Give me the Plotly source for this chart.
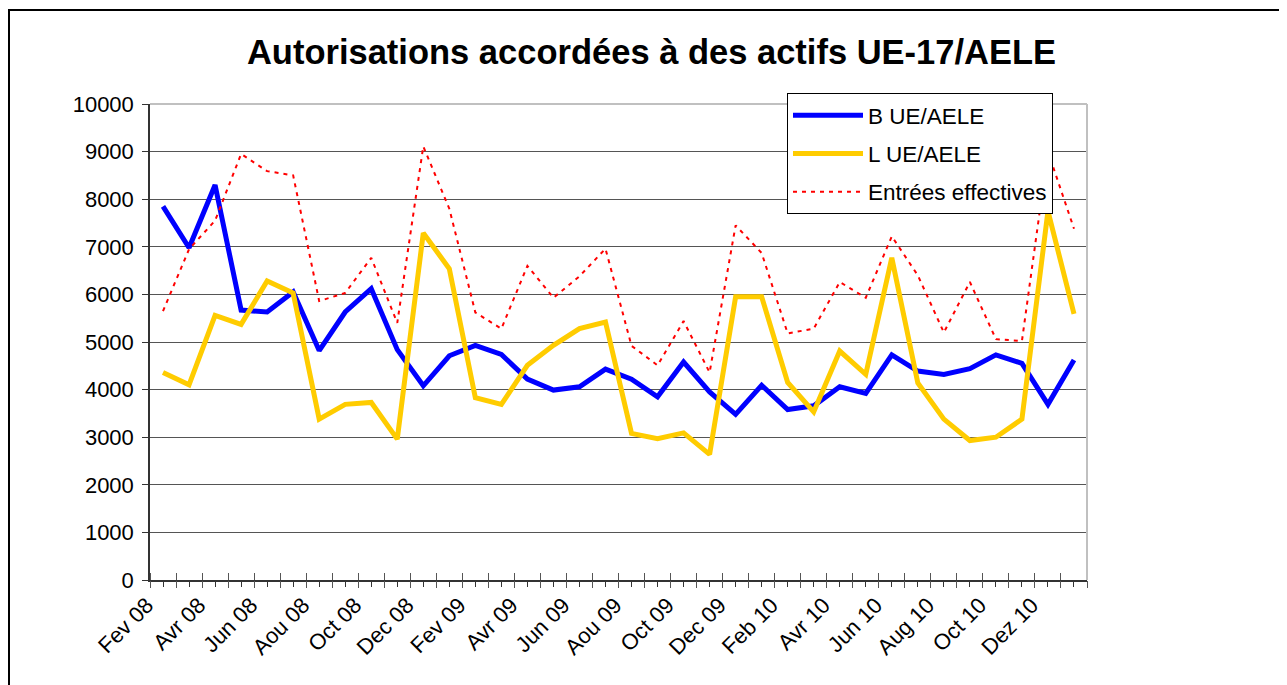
import plotly.graph_objects as go

months = ["Fev 08", "Mar 08", "Avr 08", "Mai 08", "Jun 08", "Jul 08", "Aou 08", "Sep 08",
          "Oct 08", "Nov 08", "Dec 08", "Jan 09", "Fev 09", "Mar 09", "Avr 09", "Mai 09",
          "Jun 09", "Jul 09", "Aou 09", "Sep 09", "Oct 09", "Nov 09", "Dec 09", "Jan 10",
          "Feb 10", "Mar 10", "Avr 10", "Mai 10", "Jun 10", "Jul 10", "Aug 10", "Sep 10",
          "Oct 10", "Nov 10", "Dez 10", "Jan 11"]

b_ue = [7850, 6980, 8300, 5670, 5630, 6050, 4820, 5630, 6120, 4840, 4080, 4710,
        4930, 4740, 4220, 3990, 4060, 4430, 4220, 3850, 4580, 3950, 3480, 4090,
        3580, 3660, 4060, 3920, 4730, 4390, 4320, 4440, 4730, 4550, 3690, 4620]

l_ue = [4360, 4100, 5560, 5370, 6280, 6030, 3380, 3690, 3730, 2960, 7290, 6540,
        3830, 3690, 4510, 4930, 5280, 5420, 3080, 2970, 3090, 2640, 5950, 5950,
        4150, 3530, 4810, 4320, 6770, 4140, 3380, 2930, 3000, 3380, 7750, 5590]

entrees = [5650, 6950, 7550, 8950, 8590, 8500, 5860, 6030, 6770, 5400, 9110, 7800,
           5620, 5280, 6600, 5930, 6380, 6960, 4920, 4510, 5440, 4360, 7450, 6870,
           5180, 5280, 6260, 5930, 7220, 6400, 5200, 6260, 5060, 5020, 9000, 7380]

title = "Autorisations accordées à des actifs UE-17/AELE"
series_names = ["B UE/AELE", "L UE/AELE", "Entrées effectives"]

xs = list(range(len(months)))
ticktext = [m if i % 2 == 0 else "" for i, m in enumerate(months)]

FONT = "Liberation Sans, Arial, sans-serif"

W, H = 1279, 677
ML, MR, MT, MB = 142, 200, 96, 105
PW, PH = W - ML - MR, H - MT - MB

fig = go.Figure()
fig.add_trace(go.Scatter(x=xs, y=b_ue, mode="lines", name=series_names[0], legendgroup="a",
                         line=dict(color="#0000FF", width=5)))
fig.add_trace(go.Scatter(x=xs, y=l_ue, mode="lines", name=series_names[1], legendgroup="b",
                         line=dict(color="#FFCC00", width=5)))
fig.add_trace(go.Scatter(x=xs, y=entrees, mode="lines", name=series_names[2], legendgroup="c",
                         line=dict(color="#FF0000", width=2, dash="4px,5px")))
# helper invisible trace for overlay tick axis
fig.add_trace(go.Scatter(x=[], y=[], xaxis="x2", showlegend=False, hoverinfo="skip"))

xr = [-0.5, len(months) - 0.5]

fig.update_layout(
    width=W, height=H,
    margin=dict(l=ML, r=MR, t=MT, b=MB),
    paper_bgcolor="white", plot_bgcolor="white",
    font=dict(family=FONT, size=22, color="black"),
    title=dict(text="<b>" + title + "</b>", x=643.5 / W, xref="container", xanchor="center",
               y=1 - 44 / H, yref="container", yanchor="middle",
               font=dict(family=FONT, size=34.5, color="black")),
    xaxis=dict(range=xr, tickmode="array", tickvals=xs, ticktext=ticktext, tickangle=-45,
               ticks="outside", ticklen=5, tickcolor="#333", tickwidth=1,
               showline=True, linecolor="#333", linewidth=1.5, showgrid=False, zeroline=False,
               tickfont=dict(family=FONT, size=22), ticklabelshift=-16, ticklabelstandoff=-3,
               minor=dict(tick0=-0.5, dtick=1, ticks="inside", ticklen=7, tickcolor="#555",
                          showgrid=False)),
    xaxis2=dict(range=xr, overlaying="x", anchor="y", side="bottom", tickmode="linear",
                tick0=-0.5, dtick=1, ticks="outside", ticklen=7, tickcolor="#555",
                showticklabels=False, showgrid=False, zeroline=False, showline=False),
    yaxis=dict(range=[0, 10000], dtick=1000, tick0=0, ticks="outside", ticklen=6,
               tickformat="d",
               tickcolor="#333", showline=True, linecolor="#333", linewidth=1.5,
               gridcolor="#555", gridwidth=1, zeroline=False,
               tickfont=dict(family=FONT, size=22), ticklabelstandoff=4),
    legend=dict(x=(787 - 150) / PW, y=1 + 11 / PH, xanchor="left", yanchor="top",
                bgcolor="white", bordercolor="black", borderwidth=1,
                font=dict(family=FONT, size=22.5), tracegroupgap=6, itemwidth=70),
    shapes=[
        dict(type="line", xref="paper", yref="paper", x0=0, x1=1, y0=1, y1=1,
             line=dict(color="#c0c0c0", width=2), layer="above"),
        dict(type="line", xref="paper", yref="paper", x0=1, x1=1, y0=0, y1=1,
             line=dict(color="#c0c0c0", width=2), layer="above"),
        dict(type="rect", xref="paper", yref="paper",
             x0=(1 - ML) / PW, x1=(W + 20 - ML) / PW,
             y0=-(MB + 20) / PH, y1=1 + (MT - 2) / PH,
             line=dict(color="black", width=2), fillcolor="rgba(0,0,0,0)", layer="above"),
    ],
)

fig.write_html("out.html")
